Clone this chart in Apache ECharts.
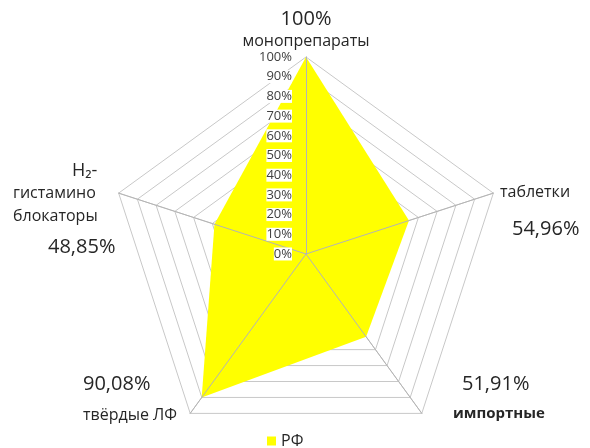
<!DOCTYPE html>
<html>
<head>
<meta charset="utf-8">
<script src="https://cdn.jsdelivr.net/npm/echarts@6/dist/echarts.min.js"></script>
<style>
  html, body { margin: 0; padding: 0; background: #fff; }
  #chart { width: 590px; height: 448px; }
</style>
</head>
<body>
<div id="chart"></div>
<script>
// radar goes counter-clockwise from the top
var categories = ['монопрепараты', 'H2-гистаминоблокаторы', 'твёрдые ЛФ', 'импортные', 'таблетки'];
var valuesRF = [100, 48.85, 90.08, 51.91, 54.96];
var tickLabels = ['0%', '10%', '20%', '30%', '40%', '50%', '60%', '70%', '80%', '90%', '100%'];
var seriesName = 'РФ';

function pct(v) {
    if (v === Math.round(v)) return v + '%';
    return v.toFixed(2).replace('.', ',') + '%';
}

var FONT = 'Open Sans';
var $each = function (arr, fn) { for (var i = 0; i < arr.length; i++) fn(arr[i], i); };

var indicators = [];
$each(categories, function (c) { indicators.push({ name: c, min: 0, max: 100 }); });

// second radar on top: spokes and tick labels over the yellow area
var overlayIndicators = [];
$each(categories, function (c, i) {
    var ind = { name: c, min: 0, max: 100 };
    if (i === 0) {
        ind.axisLabel = {
            show: true,
            color: '#404040',
            fontFamily: FONT,
            fontSize: 13,
            backgroundColor: '#fff',
            margin: 14,
            formatter: function (v) { return tickLabels[Math.round(v / 10)]; }
        };
    }
    overlayIndicators.push(ind);
});

function txt(x, y, text, size, align, bold) {
    return {
        type: 'text', x: x, y: y, z: 10,
        style: {
            text: text, fill: '#262626', font: (bold ? 'bold ' : '') + size + 'px "' + FONT + '"',
            textAlign: align, textVerticalAlign: 'middle'
        }
    };
}

var chart = echarts.init(document.getElementById('chart'));
var option = {
    animation: false,
    legend: {
        data: [seriesName],
        top: 428,
        left: 262,
        icon: 'rect',
        itemWidth: 9,
        itemHeight: 9,
        itemGap: 6,
        textStyle: { fontFamily: FONT, fontSize: 16, color: '#262626' }
    },
    radar: [
        {
            center: [306, 254],
            radius: 197,
            shape: 'polygon',
            splitNumber: 10,
            indicator: indicators,
            axisName: { show: false },
            axisLine: { lineStyle: { color: '#c8c8c8' } },
            splitLine: { lineStyle: { color: '#c8c8c8', width: 1 } },
            splitArea: { show: false },
            axisLabel: { show: false }
        },
        {
            center: [306, 254],
            radius: 197,
            shape: 'polygon',
            splitNumber: 10,
            z: 5,
            indicator: overlayIndicators,
            axisName: { show: false },
            axisLine: { lineStyle: { color: '#b4b4b4' } },
            splitLine: { show: false },
            splitArea: { show: false },
            axisLabel: { show: false }
        }
    ],
    graphic: [
        txt(306, 19, pct(valuesRF[0]), 20, 'center'),
        txt(306, 41, categories[0], 16, 'center'),
        txt(500, 192, categories[4], 16, 'left'),
        txt(512, 229, pct(valuesRF[4]), 20, 'left'),
        txt(462, 384, pct(valuesRF[3]), 20, 'left'),
        txt(453, 414, categories[3], 15, 'left', true),
        txt(83, 384, pct(valuesRF[2]), 20, 'left'),
        txt(83, 415, categories[2], 16, 'left'),
        txt(72, 171, 'H\u2082-', 18, 'left'),
        txt(13, 193, 'гистамино', 16, 'left'),
        txt(13, 216, 'блокаторы', 16, 'left'),
        txt(48, 247, pct(valuesRF[1]), 20, 'left')
    ],
    series: [
        {
            name: seriesName,
            type: 'radar',
            radarIndex: 0,
            symbol: 'none',
            itemStyle: { color: '#ffff00' },
            lineStyle: { width: 0 },
            areaStyle: { color: '#ffff00', opacity: 1 },
            data: [{ value: valuesRF, name: seriesName }]
        }
    ]
};
chart.setOption(option);
</script>
</body>
</html>
